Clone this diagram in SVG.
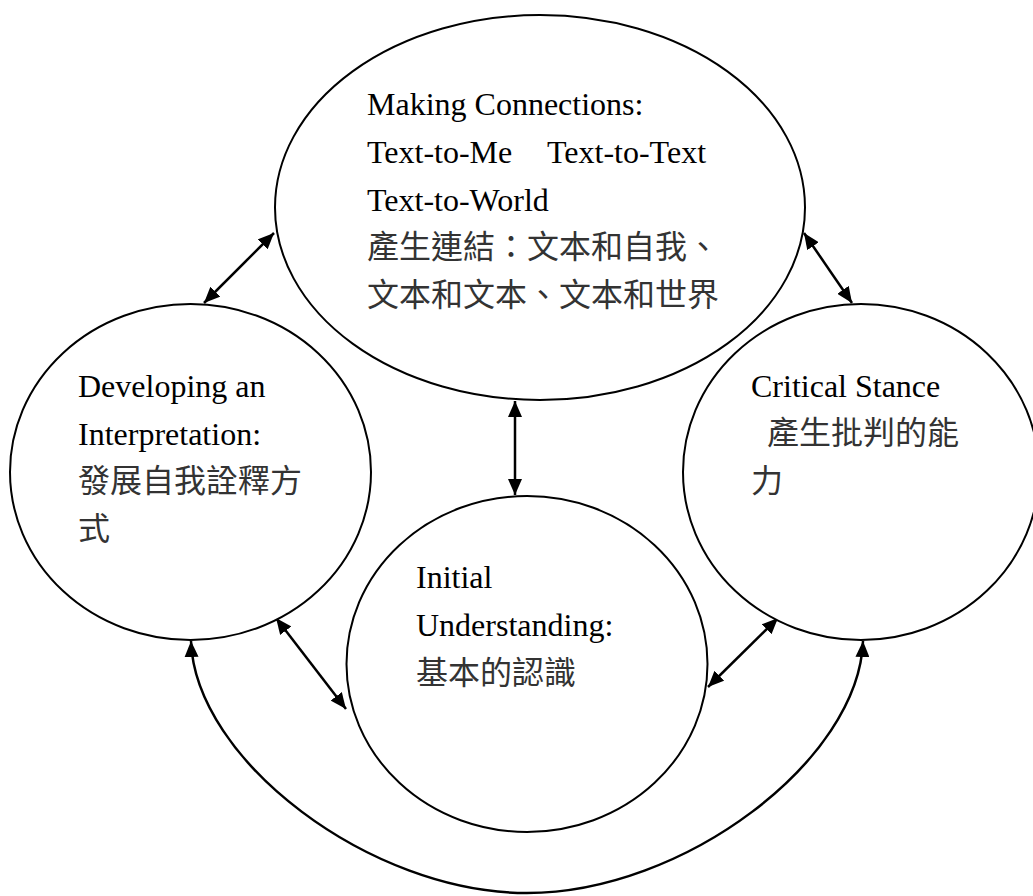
<svg xmlns="http://www.w3.org/2000/svg" width="1033" height="896" viewBox="0 0 1033 896">
<style>
.node ellipse{fill:#fff;stroke:#000;stroke-width:2}
.t{font-family:"Liberation Serif","Noto Sans CJK TC",serif;font-size:32px;fill:#000}
.c{font-family:"Liberation Serif","Noto Sans CJK TC",sans-serif;font-size:32px;fill:#333}
.conn{fill:none;stroke:#000;stroke-width:2.5}
</style>
<defs>
<marker id="ah" viewBox="0 0 16 14" refX="16" refY="7" markerWidth="16" markerHeight="14" markerUnits="userSpaceOnUse" orient="auto-start-reverse">
<path d="M0,0 L16,7 L0,14 z" fill="#000"/>
</marker>
</defs>
<rect width="1033" height="896" fill="#fff"/>
<g id="connectors">
<path class="conn" d="M191,641 C195,760 370,893 527,893 C684,893 859,760 863,641" marker-start="url(#ah)" marker-end="url(#ah)"/>
<line class="conn" x1="274" y1="233" x2="204" y2="303" marker-start="url(#ah)" marker-end="url(#ah)"/>
<line class="conn" x1="804" y1="233" x2="852" y2="303" marker-start="url(#ah)" marker-end="url(#ah)"/>
<line class="conn" x1="515" y1="401" x2="515" y2="495" marker-start="url(#ah)" marker-end="url(#ah)"/>
<line class="conn" x1="276" y1="618" x2="346" y2="709" marker-start="url(#ah)" marker-end="url(#ah)"/>
<line class="conn" x1="778" y1="618" x2="708" y2="687" marker-start="url(#ah)" marker-end="url(#ah)"/>
</g>
<g id="node-making-connections" class="node">
<ellipse cx="540" cy="207.5" rx="265" ry="192.5"/>
<text class="t" x="367" y="115">Making Connections:</text>
<text class="t" y="163"><tspan x="367">Text-to-Me</tspan><tspan x="547">Text-to-Text</tspan></text>
<text class="t" x="367" y="211">Text-to-World</text>
<text class="c" x="367" y="258">產生連結：文本和自我、</text>
<text class="c" x="367" y="306">文本和文本、文本和世界</text>
</g>
<g id="node-developing" class="node">
<ellipse cx="190.5" cy="472" rx="180.5" ry="168"/>
<text class="t" x="78" y="397">Developing an</text>
<text class="t" x="78" y="445">Interpretation:</text>
<text class="c" x="78" y="492">發展自我詮釋方</text>
<text class="c" x="78" y="540">式</text>
</g>
<g id="node-critical" class="node">
<ellipse cx="861" cy="472" rx="178" ry="168"/>
<text class="t" x="751" y="397">Critical Stance</text>
<text class="c" x="767" y="444">產生批判的能</text>
<text class="c" x="751" y="492">力</text>
</g>
<g id="node-initial" class="node">
<ellipse cx="527" cy="664" rx="180.5" ry="168"/>
<text class="t" x="416" y="588">Initial</text>
<text class="t" x="416" y="636">Understanding:</text>
<text class="c" x="416" y="684">基本的認識</text>
</g>
</svg>
